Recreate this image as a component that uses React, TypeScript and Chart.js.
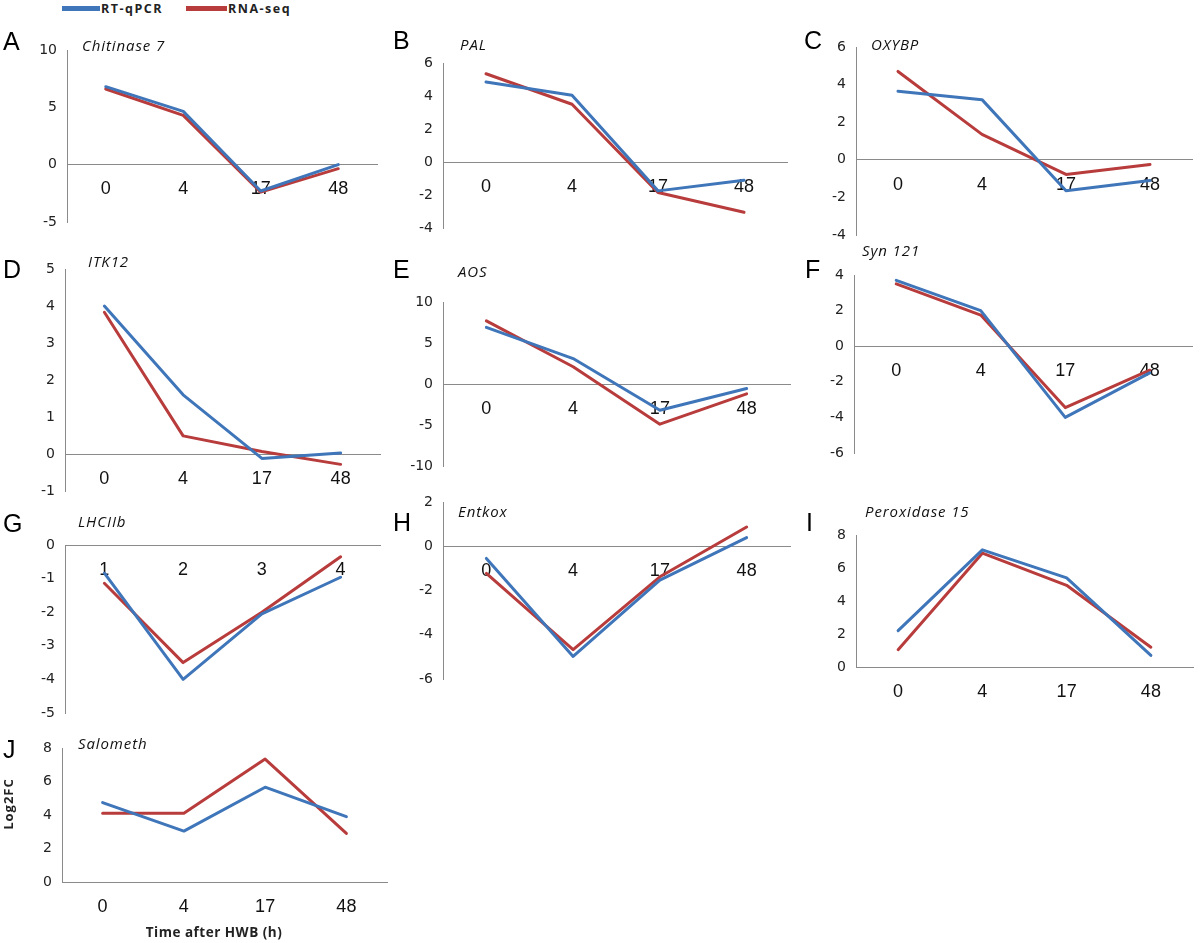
import React, { useEffect, useRef } from "react";
import { Chart, registerables } from "chart.js";

Chart.register(...registerables);

// ---------- data ----------
const hours = ["0", "4", "17", "48"];
const lhcLabels = ["1", "2", "3", "4"];
const seriesNames = ["RT-qPCR", "RNA-seq"];

const chitinaseQpcr = [6.8, 4.65, -2.3, 0.0];
const chitinaseRnaseq = [6.6, 4.3, -2.4, -0.35];
const chitinaseTicks = [-5, 0, 5, 10];

const palQpcr = [4.85, 4.05, -1.75, -1.1];
const palRnaseq = [5.35, 3.5, -1.85, -3.05];
const palTicks = [-4, -2, 0, 2, 4, 6];

const oxybpQpcr = [3.65, 3.2, -1.65, -1.1];
const oxybpRnaseq = [4.7, 1.35, -0.78, -0.25];
const oxybpTicks = [-4, -2, 0, 2, 4, 6];

const itk12Qpcr = [4.0, 1.6, -0.12, 0.03];
const itk12Rnaseq = [3.83, 0.49, 0.07, -0.28];
const itk12Ticks = [-1, 0, 1, 2, 3, 4, 5];

const aosQpcr = [6.9, 3.1, -3.2, -0.55];
const aosRnaseq = [7.7, 2.1, -4.9, -1.2];
const aosTicks = [-10, -5, 0, 5, 10];

const syn121Qpcr = [3.7, 2.0, -4.0, -1.5];
const syn121Rnaseq = [3.5, 1.75, -3.45, -1.35];
const syn121Ticks = [-6, -4, -2, 0, 2, 4];

const lhciibQpcr = [-0.84, -4.0, -2.05, -0.96];
const lhciibRnaseq = [-1.14, -3.5, -2.0, -0.35];
const lhciibTicks = [-5, -4, -3, -2, -1, 0];

const entkoxQpcr = [-0.55, -4.98, -1.53, 0.39];
const entkoxRnaseq = [-1.23, -4.67, -1.38, 0.87];
const entkoxTicks = [-6, -4, -2, 0, 2];

const peroxQpcr = [2.2, 7.1, 5.4, 0.7];
const peroxRnaseq = [1.05, 6.9, 4.95, 1.2];
const peroxTicks = [0, 2, 4, 6, 8];

const salomethQpcr = [4.74, 3.04, 5.66, 3.9];
const salomethRnaseq = [4.1, 4.1, 7.34, 2.9];
const salomethTicks = [0, 2, 4, 6, 8];

// ---------- styles ----------
const BLUE = "#3F75B9";
const RED = "#B83C3C";
const AXIS = "#8a8a8a";
const YW = 50;
const PT = 26;
const PR = 8;
const PB = 42;

type PanelDef = {
  letter: string;
  title: string;
  labels: string[];
  qpcr: number[];
  rnaseq: number[];
  ticks: number[];
  box: { l: number; t: number; r: number; b: number };
  letterPos: { x: number; y: number };
  titlePos: { x: number; y: number };
};

const panels: PanelDef[] = [
  { letter: "A", title: "Chitinase 7", labels: hours, qpcr: chitinaseQpcr, rnaseq: chitinaseRnaseq, ticks: chitinaseTicks,
    box: { l: 67, t: 50, r: 377, b: 222 }, letterPos: { x: 3, y: 41 }, titlePos: { x: 82, y: 45.5 } },
  { letter: "B", title: "PAL", labels: hours, qpcr: palQpcr, rnaseq: palRnaseq, ticks: palTicks,
    box: { l: 443, t: 63, r: 787, b: 228 }, letterPos: { x: 393, y: 40 }, titlePos: { x: 460, y: 45 } },
  { letter: "C", title: "OXYBP", labels: hours, qpcr: oxybpQpcr, rnaseq: oxybpRnaseq, ticks: oxybpTicks,
    box: { l: 856, t: 47, r: 1192, b: 235 }, letterPos: { x: 804, y: 40 }, titlePos: { x: 871, y: 45 } },
  { letter: "D", title: "ITK12", labels: hours, qpcr: itk12Qpcr, rnaseq: itk12Rnaseq, ticks: itk12Ticks,
    box: { l: 65, t: 269, r: 380, b: 491 }, letterPos: { x: 3, y: 269 }, titlePos: { x: 88, y: 262 } },
  { letter: "E", title: "AOS", labels: hours, qpcr: aosQpcr, rnaseq: aosRnaseq, ticks: aosTicks,
    box: { l: 443, t: 302, r: 790, b: 466 }, letterPos: { x: 393, y: 269 }, titlePos: { x: 458, y: 271.5 } },
  { letter: "F", title: "Syn 121", labels: hours, qpcr: syn121Qpcr, rnaseq: syn121Rnaseq, ticks: syn121Ticks,
    box: { l: 854, t: 275, r: 1192, b: 453 }, letterPos: { x: 805, y: 269 }, titlePos: { x: 862, y: 251 } },
  { letter: "G", title: "LHCIIb", labels: lhcLabels, qpcr: lhciibQpcr, rnaseq: lhciibRnaseq, ticks: lhciibTicks,
    box: { l: 65, t: 545, r: 380, b: 713 }, letterPos: { x: 3, y: 523 }, titlePos: { x: 78, y: 522 } },
  { letter: "H", title: "Entkox", labels: hours, qpcr: entkoxQpcr, rnaseq: entkoxRnaseq, ticks: entkoxTicks,
    box: { l: 443, t: 502, r: 790, b: 679 }, letterPos: { x: 393, y: 522.5 }, titlePos: { x: 458, y: 511.5 } },
  { letter: "I", title: "Peroxidase 15", labels: hours, qpcr: peroxQpcr, rnaseq: peroxRnaseq, ticks: peroxTicks,
    box: { l: 856, t: 535, r: 1193, b: 667 }, letterPos: { x: 806, y: 522.5 }, titlePos: { x: 865, y: 511.5 } },
  { letter: "J", title: "Salometh", labels: hours, qpcr: salomethQpcr, rnaseq: salomethRnaseq, ticks: salomethTicks,
    box: { l: 62, t: 748, r: 387, b: 882 }, letterPos: { x: 3, y: 749 }, titlePos: { x: 78, y: 744 } },
];

function Panel({ p }: { p: PanelDef }) {
  const ref = useRef<HTMLCanvasElement | null>(null);
  const w = p.box.r - p.box.l + YW + PR;
  const h = p.box.b - p.box.t + PT + PB;

  useEffect(() => {
    if (!ref.current) return;
    const lineStyle = {
      borderWidth: 3,
      pointRadius: 0,
      pointHoverRadius: 0,
      tension: 0,
      fill: false,
      borderJoinStyle: "round" as const,
      borderCapStyle: "round" as const,
    };
    const chart = new Chart(ref.current, {
      type: "line",
      data: {
        labels: p.labels,
        datasets: [
          { label: seriesNames[0], data: p.qpcr, borderColor: BLUE, backgroundColor: BLUE, ...lineStyle },
          { label: seriesNames[1], data: p.rnaseq, borderColor: RED, backgroundColor: RED, ...lineStyle },
        ],
      },
      options: {
        responsive: false,
        maintainAspectRatio: false,
        animation: false,
        events: [],
        layout: { padding: { left: 0, top: PT, right: PR, bottom: PB } },
        plugins: {
          legend: { display: false },
          tooltip: { enabled: false },
          title: { display: false },
        },
        scales: {
          x: {
            type: "category",
            position: { y: 0 } as any,
            offset: true,
            grid: { display: false, drawTicks: false },
            border: { display: true, color: AXIS, width: 1 },
            ticks: {
              padding: 14,
              color: "#111",
              font: { family: "Liberation Sans", size: 18 },
              maxRotation: 0,
              autoSkip: false,
            },
          },
          y: {
            type: "linear",
            position: "left",
            min: p.ticks[0],
            max: p.ticks[p.ticks.length - 1],
            grid: { display: false, drawTicks: false },
            border: { display: true, color: AXIS, width: 1 },
            ticks: {
              stepSize: p.ticks[1] - p.ticks[0],
              padding: 10,
              color: "#222",
              font: { family: "DejaVu Sans", size: 14 },
            },
            afterFit: (scale: any) => {
              scale.width = YW;
            },
          },
        },
      },
    });
    return () => chart.destroy();
  }, []);

  return (
    <canvas
      ref={ref}
      width={w}
      height={h}
      style={{ position: "absolute", left: p.box.l - YW, top: p.box.t - PT, width: w, height: h }}
    />
  );
}

const letterStyle: React.CSSProperties = {
  position: "absolute",
  fontFamily: "Liberation Sans, Arial, sans-serif",
  fontSize: 25,
  lineHeight: "25px",
  color: "#000",
  whiteSpace: "nowrap",
};

const titleStyle: React.CSSProperties = {
  position: "absolute",
  fontFamily: "Open Sans, sans-serif",
  fontStyle: "italic",
  fontSize: 15,
  lineHeight: "15px",
  letterSpacing: 0.9,
  color: "#111",
  whiteSpace: "nowrap",
};

const boldText: React.CSSProperties = {
  position: "absolute",
  fontFamily: "Open Sans, sans-serif",
  fontWeight: 700,
  color: "#222",
  whiteSpace: "nowrap",
};

export default function App() {
  useEffect(() => {
    document.body.style.margin = "0";
  }, []);
  return (
    <div style={{ position: "absolute", left: 0, top: 0, width: 1200, height: 943, background: "#fff", overflow: "hidden" }}>
      {/* legend */}
      <div style={{ position: "absolute", left: 62, top: 6, width: 38, height: 4.5, background: BLUE }} />
      <div style={{ ...boldText, left: 101, top: 1.5, fontSize: 12.5, lineHeight: "13px", letterSpacing: 1.5 }}>{seriesNames[0]}</div>
      <div style={{ position: "absolute", left: 186, top: 6, width: 41, height: 4.5, background: RED }} />
      <div style={{ ...boldText, left: 228, top: 1.5, fontSize: 12.5, lineHeight: "13px", letterSpacing: 1.5 }}>{seriesNames[1]}</div>

      {panels.map((p) => (
        <React.Fragment key={p.letter}>
          <Panel p={p} />
          <div style={{ ...letterStyle, left: p.letterPos.x, top: p.letterPos.y - 12.2 }}>{p.letter}</div>
          <div style={{ ...titleStyle, left: p.titlePos.x, top: p.titlePos.y - 8 }}>{p.title}</div>
        </React.Fragment>
      ))}

      {/* axis titles */}
      <div
        style={{
          ...boldText,
          left: 214,
          top: 925,
          fontSize: 13.5,
          lineHeight: "14px",
          letterSpacing: 0.5,
          transform: "translateX(-50%)",
        }}
      >
        Time after HWB (h)
      </div>
      <div
        style={{
          ...boldText,
          left: 8,
          top: 804,
          fontSize: 13,
          lineHeight: "14px",
          letterSpacing: 1,
          transform: "translate(-50%, -50%) rotate(-90deg)",
        }}
      >
        Log2FC
      </div>
    </div>
  );
}
